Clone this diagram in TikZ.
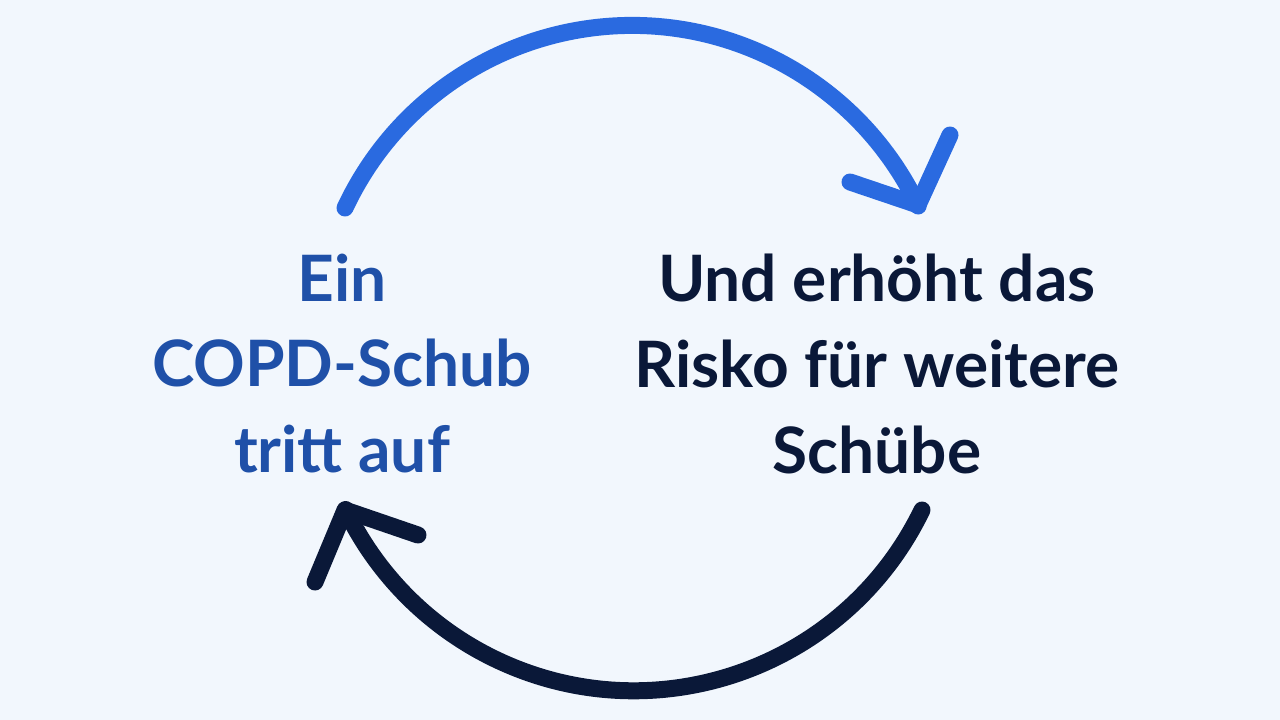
\documentclass[tikz,border=0pt]{standalone}
\usepackage{fontspec}
\setmainfont{Lato}
\definecolor{bgc}{HTML}{F2F7FD}
\definecolor{arcblue}{HTML}{2A6AE0}
\definecolor{txtblue}{HTML}{1F50A8}
\definecolor{navy}{HTML}{0A1838}
\tikzset{
  arcline/.style={line width=17pt, line cap=round, line join=round},
  lbl/.style={font=\fontsize{64}{85}\selectfont\bfseries, align=center, inner sep=0pt, anchor=base},
}
\begin{document}
\begin{tikzpicture}[x=1pt,y=-1pt]
\fill[bgc] (0,0) rectangle (1280,720);
\useasboundingbox (0,0) rectangle (1280,720);
% left text
\node[lbl, text=txtblue] (l1) at (342,301) {Ein};
\node[lbl, text=txtblue] (l2) at (342,386) {COPD-Schub};
\node[lbl, text=txtblue] (l3) at (342,472) {tritt auf};
% right text
\node[lbl, text=navy] (r1) at (877,301) {Und erhöht das};
\node[lbl, text=navy] (r2) at (877,387) {Risko für weitere};
\node[lbl, text=navy] (r3) at (877,473) {Schübe};
% blue arc
\coordinate (bs) at (345,208);
\coordinate (bt) at (918,205);
\coordinate (ba1) at (950,135);
\coordinate (ba2) at (850,182);
\draw[arcline, arcblue] (bs) arc[start angle=154.9, end angle=25.5, radius=317pt];
\draw[arcline, arcblue] (ba1) -- (bt) -- (ba2);
% navy arc
\coordinate (ns) at (922,510);
\coordinate (nt) at (345,510);
\coordinate (na1) at (418,535);
\coordinate (na2) at (315,582);
\draw[arcline, navy] (ns) arc[start angle=-25.8, end angle=-154.3, radius=320pt];
\draw[arcline, navy] (na1) -- (nt) -- (na2);
\end{tikzpicture}
\end{document}
